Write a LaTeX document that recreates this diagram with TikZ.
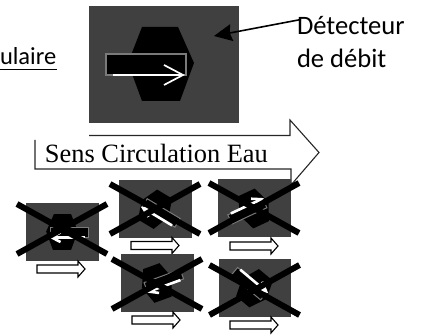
\documentclass[tikz,border=0pt]{standalone}
\usepackage{fontspec}
\setmainfont{Carlito}
\newfontfamily\serifface{Liberation Serif}
\usetikzlibrary{arrows.meta}
\definecolor{panel}{HTML}{404040}
\definecolor{rim}{HTML}{7A7A7A}
\tikzset{
  panelbox/.style={fill=panel,draw=none},
  hexbody/.style={fill=black,draw=none},
  tubebox/.style={fill=black,draw=rim},
  flowline/.style={draw=white,line cap=butt,line join=miter},
  crossbar/.style={draw=black,line width=6pt,line cap=butt},
  flowarrow/.style={draw=black,fill=white,line width=1.1pt,line join=miter},
  mainoutline/.style={draw=black!85,line width=1.1pt,line join=miter},
  pointer/.style={draw=black,line width=1.6pt,-{Stealth[length=18pt,width=17pt,inset=2pt]}},
  caption/.style={anchor=base west,inner sep=0pt,outer sep=0pt,text=black}
}
% #1 scope transform, #2 rim width, #3 flow line width
\newcommand{\valvebody}[3]{%
  \begin{scope}[#1]
    \fill[hexbody] (-19,-37)--(17,-37)--(33,-1)--(19,37)--(-19,37)--(-33,-1)--cycle;
    \draw[tubebox,line width=#2] (-55,-10) rectangle (25,11);
    \draw[flowline,line width=#3] (-48,11)--(22,11);
    \draw[flowline,line width=#3] (3,1)--(22,11)--(3,21);
  \end{scope}}
% #1 panel left, #2 panel top, #3 cross mid y, #4 rotation transform, #5 arrow left, #6 arrow mid y
\newcommand{\crossedvalve}[6]{%
  \fill[panelbox] (#1,#2) rectangle ++(72.5,58);
  \valvebody{shift={({#1+36},{#2+29})},#4,scale=.48}{1pt}{2.6pt}
  \draw[crossbar] ({#1-9},{#3-25})--({#1+81},{#3+25});
  \draw[crossbar] ({#1-9},{#3+25})--({#1+81},{#3-25});
  \draw[flowarrow] (#5,{#6-4})--({#5+41},{#6-4})--({#5+41},{#6-8})--({#5+48},#6)--({#5+41},{#6+8})--({#5+41},{#6+4})--(#5,{#6+4})--cycle;
}
\begin{document}
\begin{tikzpicture}[x=1pt,y=-1pt]
\useasboundingbox (0,0) rectangle (421,336);
% main panel
\fill[panelbox] (89,6) rectangle (239,123);
\valvebody{shift={(161,64)}}{1.2pt}{1.7pt}
% captions
\node[caption,font=\fontsize{24.5}{28}\selectfont] (ulaire) at (0,64.5) {ulaire};
\coordinate (ulL) at (0,69.5);
\coordinate (ulR) at (56.5,69.5);
\draw[draw=black,line width=1.1pt] (ulL)--(ulR);
\node[caption,font=\fontsize{26.6}{30}\selectfont] (det1) at (297,35) {Détecteur};
\node[caption,font=\fontsize{26.6}{30}\selectfont] (det2) at (297,68) {de débit};
% pointer
\coordinate (ptrFrom) at (301,19.5);
\coordinate (ptrTo) at (214,36);
\draw[pointer] (ptrFrom)--(ptrTo);
% large direction arrow
\draw[mainoutline] (89,135.5)--(290,135.5)--(290,120)--(319,152.5)--(291,185)--(291,169)--(35,169)--(35,140);
\node[caption,font=\serifface\fontsize{26.4}{30}\selectfont] (sens) at (45,162.5) {Sens Circulation Eau};
% small crossed valves
\crossedvalve{26}{203}{229}{rotate=180,yscale=-1}{37}{269}
\crossedvalve{119}{180}{209}{rotate=149,yscale=-1}{131}{245.5}
\crossedvalve{121}{254}{284}{rotate=200,yscale=-1}{132}{320}
\crossedvalve{218}{179.5}{208}{rotate=25,yscale=-1}{230}{246}
\crossedvalve{218.5}{259.5}{290}{rotate=-40,yscale=-1}{230}{325}
\end{tikzpicture}
\end{document}
